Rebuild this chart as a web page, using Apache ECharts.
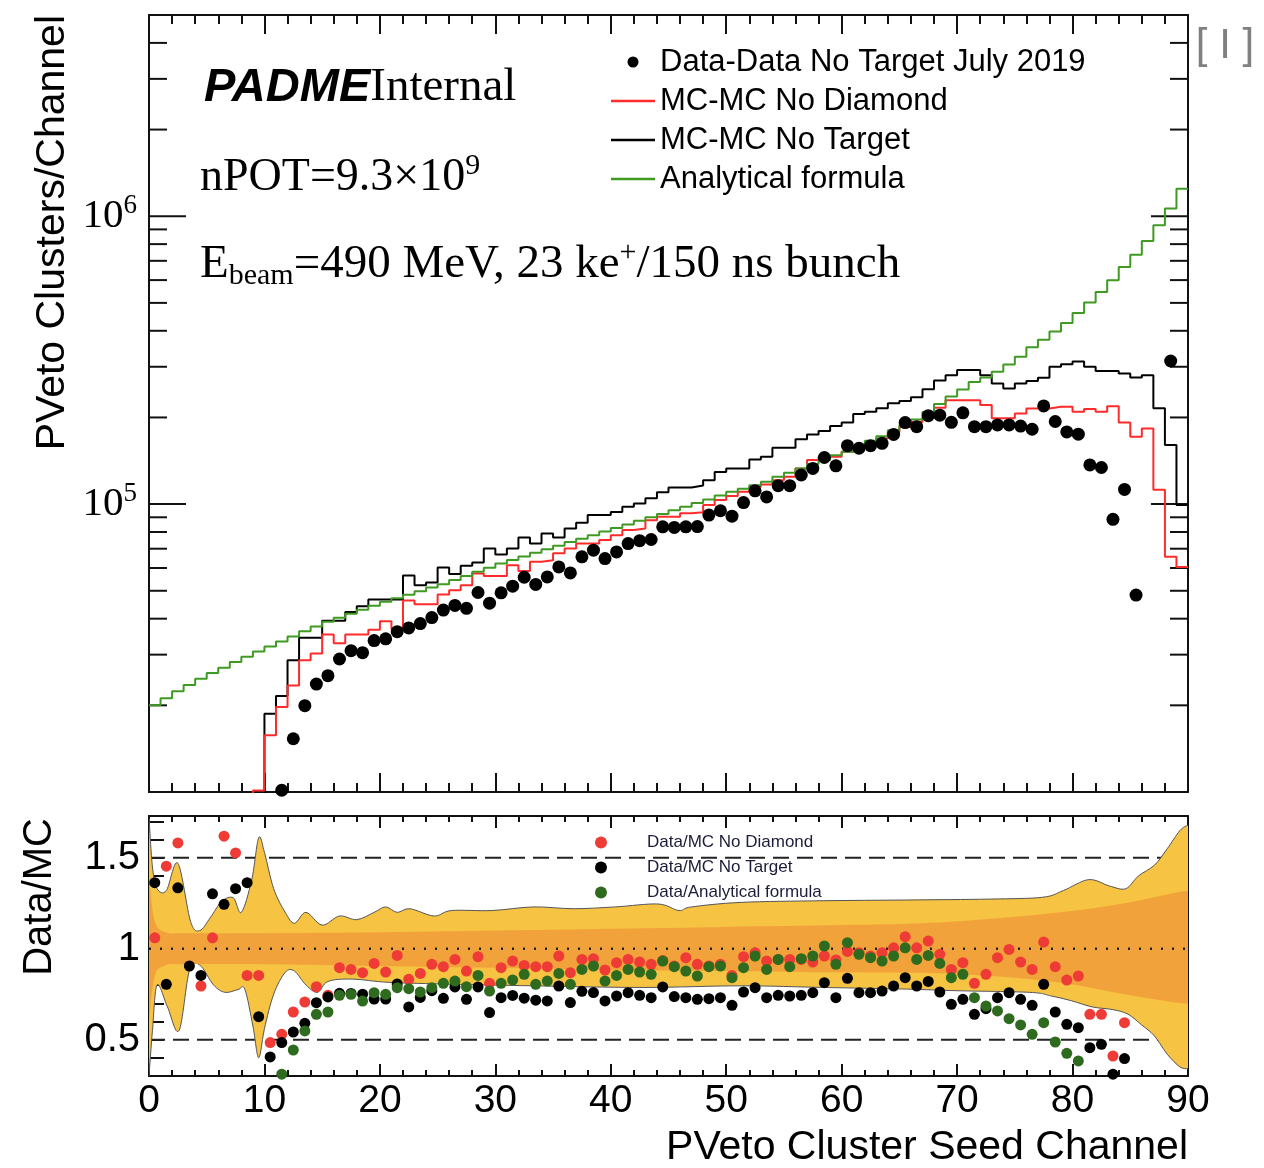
<!DOCTYPE html>
<html><head><meta charset="utf-8">
<script src="https://cdn.jsdelivr.net/npm/echarts@6/dist/echarts.min.js"></script>
<style>html,body{margin:0;padding:0;background:#fff}#c{width:1264px;height:1168px}</style>
</head><body><div id="c"></div>
<script>
// ---------------- DATA ----------------
// bin index = channel (bin i covers [i, i+1])
const xTickLabels = [0,10,20,30,40,50,60,70,80,90];
const logMajorTicks = [1e5, 1e6];
const logMinorTicks = [2e4,3e4,4e4,5e4,6e4,7e4,8e4,9e4,2e5,3e5,4e5,5e5,6e5,7e5,8e5,9e5,2e6,3e6,4e6];
const ratioTickLabels = [0.5, 1, 1.5];
const refDashed = [1.5, 0.5];
const refDotted = [1];

// Data-Data No Target July 2019 (points)
const dataNoTarget = [null,null,null,null,null,null,null,null,null,null,null,
 10140,15310,19950,23710,25350,28970,30970,30480,33570,34040,36060,37150,38460,40360,42850,44460,43450,49320,45290,
 49200,51880,55720,52600,55850,60530,57680,65610,69180,64710,68230,72950,74640,75340,83370,82990,83370,83560,91620,94840,
 90780,101200,111200,105900,115900,115900,126200,133000,145200,135800,159600,156300,159600,162600,174600,191900,185800,202800,203700,192300,
 207500,185800,185800,188400,188400,186600,182000,219300,193600,178200,175000,136800,134000,88510,112500,48310,null,null,314100,null];

// MC-MC No Diamond (red histogram)
const mcNoDiamond = [null,null,null,null,null,null,null,null,8000,10120,
 15740,19720,23440,28710,30270,35240,32890,35240,35240,36640,39170,36810,46240,44870,44870,48530,50230,52240,57410,56230,
 56230,61380,58610,63100,63830,67450,70150,72950,72950,74990,77980,81280,82220,87900,90360,90360,92900,93760,99310,103300,
 106700,110400,114800,116900,121100,124500,133000,142200,146200,146200,152100,156700,162900,169000,177800,185400,192800,199500,216300,229600,
 229600,229600,220800,198600,198600,206500,214800,214800,217800,217800,209400,213800,209400,218800,191900,171400,183200,112200,65610,60530];

// MC-MC No Target (black histogram)
const mcNoTarget = [null,null,null,null,null,null,null,null,null,8000,
 18710,21530,28710,34360,34360,39360,39360,42170,44160,46670,46670,46670,56490,52240,53460,60260,57150,61090,62660,70150,
 66830,70150,76560,72950,79070,76560,82220,86100,91620,91620,93970,97950,100500,104700,109900,114300,114300,116100,121100,129400,
 133000,133000,142900,146200,157000,157000,167900,174600,179500,186600,191900,205600,209400,215300,223900,228000,235000,250600,268500,280500,
 292400,292400,280500,262400,252300,262400,267900,274800,299900,306200,312600,299900,289700,289700,284400,275400,280500,215300,160300,99310];

// Analytical formula (green histogram)
const analytical = [20000,21180,22390,23550,24720,25880,27040,28310,29510,30760,
 31990,33340,34670,36140,37580,38990,40270,41590,42950,44360,45810,47100,48420,49770,51290,52720,54450,56230,58210,60120,
 62230,63970,65770,67760,69660,71610,73790,75860,77980,80350,82600,84920,87500,89950,92470,95280,97950,100900,103700,107200,
 110400,113000,116400,119700,124500,128500,133000,137700,142200,147900,152100,158100,166000,172200,180700,188400,196800,208900,222800,236600,
 250000,265500,275400,288400,305500,325100,350800,372400,398100,425600,461300,501200,545800,599800,666800,734500,820400,931100,1064000,1247000];

// Ratio panel
const ratioNoDiamond = [1.060,1.454,1.582,null,0.795,1.060,1.619,1.527,0.853,0.853,
 0.484,0.529,0.652,0.707,0.791,0.744,0.896,0.886,0.868,0.919,0.872,0.963,0.832,0.864,0.914,0.901,0.941,0.877,0.956,0.810,
 0.896,0.932,0.908,0.901,0.901,0.960,0.868,0.941,0.945,0.883,0.923,0.941,0.927,0.914,0.935,0.905,0.951,0.914,0.905,0.914,
 0.853,0.956,0.978,0.932,0.941,0.941,0.941,0.927,0.960,0.938,0.985,0.978,0.960,0.978,1.005,1.066,1.005,1.042,0.969,0.886,
 0.923,0.810,0.859,0.951,0.996,0.927,0.886,1.037,0.901,0.828,0.850,0.639,0.639,0.410,0.593,null,null,null,null,null];
const ratioNoTarget = [1.363,0.804,1.335,0.905,0.853,1.302,1.244,1.330,1.363,0.626,
 0.405,0.484,0.542,0.590,0.703,0.735,0.755,0.754,0.750,0.723,0.723,0.806,0.680,0.732,0.769,0.727,0.790,0.722,0.790,0.649,
 0.731,0.743,0.728,0.717,0.713,0.795,0.704,0.766,0.759,0.713,0.740,0.758,0.744,0.731,0.790,0.737,0.731,0.722,0.725,0.731,
 0.689,0.762,0.786,0.731,0.744,0.740,0.744,0.758,0.813,0.731,0.837,0.758,0.758,0.767,0.795,0.841,0.795,0.820,0.762,0.694,
 0.722,0.639,0.670,0.731,0.758,0.722,0.689,0.804,0.652,0.584,0.566,0.456,0.474,0.310,0.396,null,null,null,null,null];
const ratioAnalytical = [null,null,null,null,null,null,null,null,null,null,
 null,0.310,0.443,0.548,0.639,0.652,0.744,0.749,0.712,0.758,0.749,0.786,0.780,0.762,0.786,0.810,0.822,0.791,0.853,0.767,
 0.810,0.828,0.859,0.804,0.822,0.864,0.804,0.886,0.905,0.822,0.853,0.886,0.872,0.859,0.932,0.901,0.877,0.850,0.901,0.905,
 0.841,0.896,0.960,0.886,0.941,0.901,0.945,0.960,1.015,0.914,1.033,0.969,0.951,0.932,0.960,1.005,0.941,0.963,0.919,0.841,
 0.859,0.731,0.685,0.658,0.615,0.581,0.529,0.593,0.487,0.425,0.383,null,null,null,null,null,null,null,null,null];

// Uncertainty bands (outer = yellow, inner = orange)
const outerHiX = [0,0.3,0.7,1.5,2.5,3.6,4.4,5.3,6.3,7.3,8.0,8.9,9.5,10.0,10.8,11.8,12.6,13.6,15.0,16.5,18.0,19.5,20.5,21.5,22.6,24.7,26.2,29.7,33.3,36.8,40.4,44.1,45.9,47.0,51.3,58.4,65.6,72.8,77.4,79.2,81.4,83.2,84.6,85.7,87.1,88.2,89.3,90];
const outerHi  = [1.72,1.45,1.33,1.32,1.47,1.15,1.10,1.17,1.26,1.28,1.20,1.38,1.61,1.53,1.33,1.20,1.14,1.20,1.13,1.18,1.16,1.20,1.23,1.20,1.22,1.18,1.21,1.21,1.23,1.22,1.23,1.246,1.21,1.23,1.255,1.264,1.268,1.273,1.283,1.32,1.38,1.345,1.33,1.40,1.46,1.55,1.65,1.68];
const outerLoX = [0,0.3,0.7,1.6,2.6,3.5,4.4,5.6,6.6,7.7,8.3,9.0,9.5,10.0,10.8,11.8,12.6,13.6,14.6,15.5,17.6,20.8,26.2,33.3,42.8,51.3,58.4,65.6,70,76.3,78.1,79.9,81.7,83.5,84.8,86.0,87.1,88.2,89.3,90];
const outerLo  = [0.30,0.55,0.80,0.68,0.55,0.88,0.91,0.80,0.76,0.775,0.777,0.575,0.40,0.56,0.75,0.87,0.877,0.80,0.76,0.82,0.833,0.815,0.805,0.796,0.787,0.796,0.787,0.778,0.769,0.76,0.741,0.714,0.68,0.665,0.64,0.58,0.52,0.42,0.35,0.34];
const innerX   = [0,0.5,1.5,3,10,20,30,40,50,60,67,73,79,84.5,89.5,90];
const innerHi  = [1.40,1.15,1.09,1.085,1.085,1.09,1.10,1.11,1.12,1.13,1.14,1.165,1.20,1.25,1.315,1.30];
const innerLo  = [0.60,0.85,0.91,0.915,0.915,0.905,0.895,0.885,0.878,0.87,0.868,0.85,0.813,0.75,0.70,0.71];

// ---------------- HELPERS ----------------
const FRAME = '#111';
function stepData(arr){
  const pts=[]; let last=-1;
  arr.forEach((v,i)=>{ if(v!=null){ pts.push([i,v]); last=i; } });
  if(last>=0) pts.push([last+1, arr[last]]);
  return pts;
}
function pointData(arr){
  const pts=[]; arr.forEach((v,i)=>{ if(v!=null) pts.push([i+0.5,v]); }); return pts;
}
function crSeg(pts){
  let d='';
  for(let i=0;i<pts.length-1;i++){
    const p0=pts[i-1]||pts[i], p1=pts[i], p2=pts[i+1], p3=pts[i+2]||pts[i+1];
    const t=1/6;
    const c1=[p1[0]+(p2[0]-p0[0])*t, p1[1]+(p2[1]-p0[1])*t];
    const c2=[p2[0]-(p3[0]-p1[0])*t, p2[1]-(p3[1]-p1[1])*t];
    d+='C'+c1[0]+','+c1[1]+' '+c2[0]+','+c2[1]+' '+p2[0]+','+p2[1];
  }
  return d;
}
function bandSeries(hx, hy, lx, ly, color, z, outline){
  return {
    type:'custom', xAxisIndex:2, yAxisIndex:2, z:z, silent:true, clip:true,
    data:[[hx[0], hy[0]]],
    renderItem:function(params, api){
      const up = hx.map((x,i)=>api.coord([x, hy[i]]));
      const dn = lx.map((x,i)=>api.coord([x, ly[i]]));
      const dnR = dn.slice().reverse();
      const d = 'M'+up[0][0]+','+up[0][1]+crSeg(up)+'L'+dnR[0][0]+','+dnR[0][1]+crSeg(dnR)+'Z';
      const children=[{type:'path', shape:{pathData:d}, style:{fill:color, stroke:null}}];
      if(outline){
        children.push({type:'path', shape:{pathData:'M'+up[0][0]+','+up[0][1]+crSeg(up)}, style:{fill:null, stroke:'#555', lineWidth:1}});
        children.push({type:'path', shape:{pathData:'M'+dn[0][0]+','+dn[0][1]+crSeg(dn)}, style:{fill:null, stroke:'#555', lineWidth:1}});
      }
      return {type:'group', children:children};
    }
  };
}
function mkX(grid, pos, labels, majorLen, minorLen){
  return {
    type:'value', gridIndex:grid, position:pos, min:0, max:90, interval:10,
    axisLine:{show:true, onZero:false, lineStyle:{color:FRAME, width:2}},
    axisTick:{show:true, inside:true, length:majorLen, lineStyle:{color:FRAME, width:2}},
    minorTick:{show:true, splitNumber:5, length:minorLen, lineStyle:{color:FRAME, width:2}},
    splitLine:{show:false},
    axisLabel:{show:labels, showMinLabel:true, showMaxLabel:true, margin:6,
      fontFamily:'Liberation Sans', fontSize:39, color:'#000',
      formatter:(v)=> xTickLabels.indexOf(Math.round(v))>=0 ? String(Math.round(v)) : ''}
  };
}
const logRich = {
  b:{fontFamily:'Liberation Serif', fontSize:41, color:'#000'},
  e:{fontFamily:'Liberation Serif', fontSize:27, color:'#000', padding:[0,0,20,0]}
};
function logTickSeries(vals, len){
  return {type:'custom', xAxisIndex:0, yAxisIndex:0, z:1, silent:true,
    data:vals.map(v=>[0,v]),
    renderItem:function(params, api){
      const v=api.value(1); const pL=api.coord([0,v]); const pR=api.coord([90,v]);
      return {type:'group', children:[
        {type:'line', shape:{x1:pL[0], y1:pL[1], x2:pL[0]+len, y2:pL[1]}, style:{stroke:FRAME, lineWidth:2}},
        {type:'line', shape:{x1:pR[0]-len, y1:pR[1], x2:pR[0], y2:pR[1]}, style:{stroke:FRAME, lineWidth:2}}]};
    }};
}
function refLineSeries(vals, dash, width, z){
  return vals.map(v=>({
    type:'line', xAxisIndex:2, yAxisIndex:2, z:z, silent:true, symbol:'none',
    data:[[0,v],[90,v]], lineStyle:{color:'#222', width:width, type:dash}
  }));
}
const LINE_ICON = 'path://M0,0H40V2.2H0Z';
const yLine = {show:true, onZero:false, lineStyle:{color:FRAME, width:2}};

// ---------------- OPTION ----------------
const option = {
  animation:false,
  backgroundColor:'#ffffff',
  grid:[
    {left:149, top:15, width:1039, height:777},
    {left:149, top:816, width:1039, height:260}
  ],
  xAxis:[
    mkX(0,'bottom',false,19,9),
    mkX(0,'top',false,19,9),
    mkX(1,'bottom',true,12,6),
    mkX(1,'top',false,12,6)
  ],
  yAxis:[
    {type:'log', logBase:10, gridIndex:0, position:'left', min:1e4, max:5e6,
     axisLine:yLine, axisTick:{show:false}, splitLine:{show:false},
     axisLabel:{margin:12, rich:logRich,
       formatter:(v)=>{ const e=Math.round(Math.log10(v)); return logMajorTicks.some(t=>Math.abs(t-v)/t<1e-6) ? '{b|10}{e|'+e+'}' : ''; }}},
    {type:'log', logBase:10, gridIndex:0, position:'right', min:1e4, max:5e6,
     axisLine:yLine, axisTick:{show:false}, splitLine:{show:false}, axisLabel:{show:false}},
    {type:'value', gridIndex:1, position:'left', min:0.3, max:1.73, interval:0.1,
     axisLine:yLine,
     axisTick:{show:true, inside:true, length:15, lineStyle:{color:FRAME, width:2}},
     splitLine:{show:false},
     axisLabel:{margin:9, fontFamily:'Liberation Sans', fontSize:40, color:'#000',
       formatter:(v)=>{ const r=Math.round(v*10)/10; return ratioTickLabels.indexOf(r)>=0 ? String(r) : ''; }}},
    {type:'value', gridIndex:1, position:'right', min:0.3, max:1.73,
     axisLine:yLine, axisTick:{show:false}, splitLine:{show:false}, axisLabel:{show:false}}
  ],
  legend:[
    {left:611, top:46, orient:'vertical', padding:0, itemWidth:44, itemHeight:11, itemGap:7, selectedMode:false,
     textStyle:{fontFamily:'Liberation Sans', fontSize:31, color:'#000', lineHeight:32},
     data:[{name:'Data-Data No Target July 2019', icon:'circle'},
           {name:'MC-MC No Diamond', icon:LINE_ICON},
           {name:'MC-MC No Target', icon:LINE_ICON},
           {name:'Analytical formula', icon:LINE_ICON}]},
    {left:595, top:834, orient:'vertical', padding:0, itemWidth:82, itemHeight:12, itemGap:8, selectedMode:false,
     textStyle:{fontFamily:'Liberation Sans', fontSize:17, color:'#1c1c3a', lineHeight:15},
     data:[{name:'Data/MC No Diamond', icon:'circle'},{name:'Data/MC No Target', icon:'circle'},{name:'Data/Analytical formula', icon:'circle'}]}
  ],
  graphic:[
    {type:'text', x:204, y:88, style:{text:'{a|PADME}{b|Internal}', verticalAlign:'middle',
      rich:{a:{fontFamily:'Liberation Sans', fontWeight:'bold', fontStyle:'italic', fontSize:47, fill:'#000'},
            b:{fontFamily:'Liberation Serif', fontSize:47, fill:'#000'}}}},
    {type:'text', x:200, y:178, style:{text:'{a|nPOT=9.3×10}{s|9}', verticalAlign:'middle',
      rich:{a:{fontFamily:'Liberation Serif', fontSize:46, fill:'#000'},
            s:{fontFamily:'Liberation Serif', fontSize:30, fill:'#000', padding:[0,0,23,0]}}}},
    {type:'text', x:200, y:265, style:{text:'{a|E}{u|beam}{a|=490 MeV, 23 ke}{s|+}{a|/150 ns bunch}', verticalAlign:'middle',
      rich:{a:{fontFamily:'Liberation Serif', fontSize:47, fill:'#000'},
            u:{fontFamily:'Liberation Serif', fontSize:30, fill:'#000', padding:[23,0,0,0]},
            s:{fontFamily:'Liberation Serif', fontSize:30, fill:'#000', padding:[0,0,23,0]}}}},
    {type:'text', x:1225, y:46, style:{text:'[ I ]', align:'center', verticalAlign:'middle',
      fontFamily:'Liberation Sans', fontSize:42, fill:'#808080'}},
    {type:'text', x:53, y:15, rotation:Math.PI/2, style:{text:'PVeto Clusters/Channel', align:'right', verticalAlign:'middle',
      fontFamily:'Liberation Sans', fontSize:41, fill:'#000'}},
    {type:'text', x:40, y:818, rotation:Math.PI/2, style:{text:'Data/MC', align:'right', verticalAlign:'middle',
      fontFamily:'Liberation Sans', fontSize:40, fill:'#000'}},
    {type:'text', x:1188, y:1148, style:{text:'PVeto Cluster Seed Channel', align:'right', verticalAlign:'middle',
      fontFamily:'Liberation Sans', fontSize:41, fill:'#000'}}
  ],
  series:[
    logTickSeries(logMinorTicks, 18),
    logTickSeries(logMajorTicks, 37),
    {name:'MC-MC No Target', type:'line', xAxisIndex:0, yAxisIndex:0, z:2, step:'end', symbol:'none', showSymbol:false, clip:true,
     data:stepData(mcNoTarget), lineStyle:{color:'#000', width:2}, itemStyle:{color:'#000'}},
    {name:'MC-MC No Diamond', type:'line', xAxisIndex:0, yAxisIndex:0, z:3, step:'end', symbol:'none', showSymbol:false, clip:true,
     data:stepData(mcNoDiamond), lineStyle:{color:'#ff2a2a', width:2}, itemStyle:{color:'#ff2a2a'}},
    {name:'Analytical formula', type:'line', xAxisIndex:0, yAxisIndex:0, z:4, step:'end', symbol:'none', showSymbol:false, clip:true,
     data:stepData(analytical), lineStyle:{color:'#3f9a22', width:2}, itemStyle:{color:'#3f9a22'}},
    {name:'Data-Data No Target July 2019', type:'scatter', xAxisIndex:0, yAxisIndex:0, z:5, symbol:'circle', symbolSize:13,
     data:pointData(dataNoTarget), itemStyle:{color:'#000', opacity:1}},
    ...refLineSeries(refDashed, [16,8], 2, 1),
    bandSeries(outerHiX, outerHi, outerLoX, outerLo, '#f6c343', 2, true),
    bandSeries(innerX, innerHi, innerX, innerLo, '#f2a23a', 3, false),
    ...refLineSeries(refDotted, [2,9], 2.5, 4),
    {name:'Data/MC No Diamond', type:'scatter', xAxisIndex:2, yAxisIndex:2, z:5, symbol:'circle', symbolSize:11,
     data:pointData(ratioNoDiamond), itemStyle:{color:'#ef3b36', opacity:1}},
    {name:'Data/MC No Target', type:'scatter', xAxisIndex:2, yAxisIndex:2, z:6, symbol:'circle', symbolSize:11,
     data:pointData(ratioNoTarget), itemStyle:{color:'#000', opacity:1}},
    {name:'Data/Analytical formula', type:'scatter', xAxisIndex:2, yAxisIndex:2, z:7, symbol:'circle', symbolSize:11,
     data:pointData(ratioAnalytical), itemStyle:{color:'#2e6b1f', opacity:1}}
  ]
};
const chart = echarts.init(document.getElementById('c'), null, {renderer:'canvas'});
chart.setOption(option);
</script>
</body></html>
